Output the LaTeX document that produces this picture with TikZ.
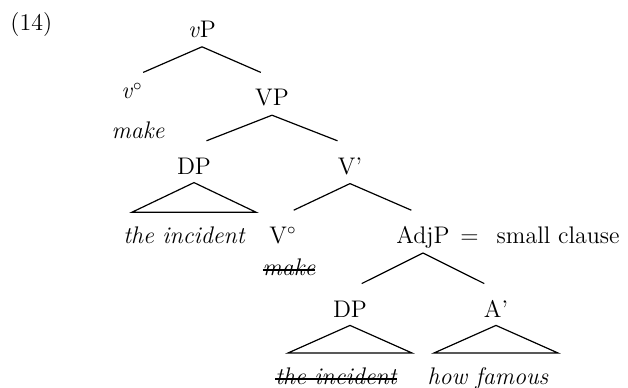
\documentclass[12pt,tikz,border=0pt]{standalone}
\usetikzlibrary{calc}
\newlength{\strikewd}
\newcommand{\strikeout}[1]{\settowidth{\strikewd}{#1}\rlap{\rule[0.18em]{\strikewd}{0.9pt}}#1}

\begin{document}
\begin{tikzpicture}[
  lbl/.style={inner sep=0pt,text height=8.5pt,text depth=0pt},
  lab/.style={lbl,anchor=north},
  gloss/.style={lab,font=\itshape},
  edge from parent/.style={draw,line width=0.6pt},
  edge from parent path={let \p1=(\tikzparentnode.south), \p2=(\tikzchildnode.north) in
    (\x1,\y1-4.5pt) -- ({\x1+0.84*(\x2-\x1)},\y2+8pt)},
  roof/.style={edge from parent path={let \p1=(\tikzparentnode.south), \p2=(\tikzchildnode.north) in
    (\x1,\y1-4pt) -- (\x1-31pt,\y2+7pt) -- (\x1+31pt,\y2+7pt) -- cycle}},
  level distance=30.75pt,
  level 1/.style={sibling distance=70pt,level distance=29.75pt},
  level 2/.style={sibling distance=78pt},
  level 3/.style={sibling distance=73pt,level distance=30.25pt},
  level 4/.style={sibling distance=73pt,level distance=32.25pt},
  level 5/.style={level distance=29.25pt}]
\useasboundingbox (0,0) rectangle (314pt,-193.5pt);
\node [anchor=north west,inner sep=0pt] (num) at (5pt,-6pt) {(14)};
\node [lab] (vP) at (101pt,-10pt) {\textit{v}P}
	child{node [lab,text height=5pt,label={[gloss,label distance=11pt,xshift=3pt]below:make}] (v) {\textit{v}$^\circ$}}
	child{node [lab] (VP) {VP}
		child{node [lab] (DP) {DP}
			child[roof]{node [gloss,xshift=-5pt] (DPtext) {the incident}}}
		child{node [lab] (Vbar) {V'}
			child{node [lab,xshift=3pt,label={[gloss,label distance=7pt,xshift=3pt]below:\strikeout{make}}] (V) {V$^\circ$}}
			child{node [lab,label={[lbl,label distance=5pt]right:{$=$\hspace{9pt}small clause}}] (AdjP) {AdjP}
				child{node [lab] (DPsc) {DP}
					child[roof]{node [gloss,xshift=-7pt] (DPsctext) {\strikeout{the incident}}}}
				child{node [lab] (Abar) {A'}
					child[roof]{node [gloss,xshift=-4pt] (Abartext) {how famous}}}}}};
\end{tikzpicture}
\end{document}
